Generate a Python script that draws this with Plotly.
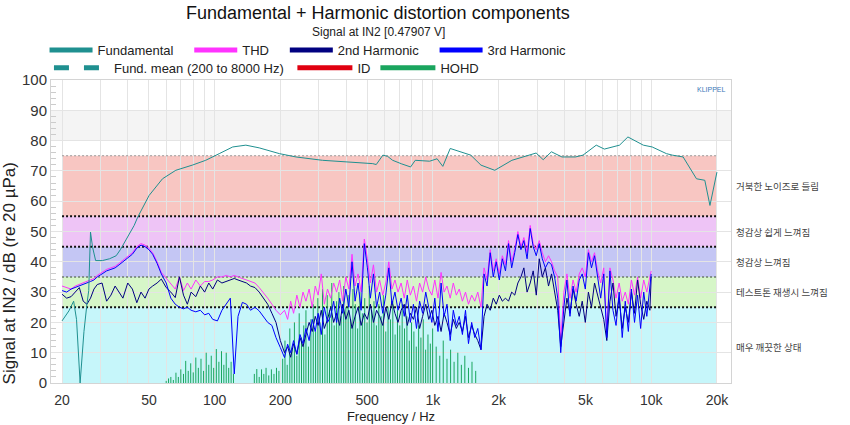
import plotly.graph_objects as go

title_text = "Fundamental + Harmonic distortion components"
subtitle_text = "Signal at IN2 [0.47907 V]"
x_title = "Frequency / Hz"
y_title = "Signal at IN2 / dB (re 20 µPa)"

# ---------------- data ----------------
fund_f = [20, 21.5, 22.6, 23.3, 24.2, 25.2, 26, 26.5, 27, 27.6, 28.5, 30.6, 33, 35.4, 37, 39,
          42.8, 44.4, 50.1, 57.7, 66.4, 79, 91, 105, 121, 139, 160, 198, 236, 312, 400, 530,
          550, 590, 620, 654, 720, 790, 830, 966, 1045, 1110, 1200, 1326, 1490, 1660, 1920,
          2300, 2600, 2970, 3200, 3490, 3900, 4500, 4870, 5600, 6100, 7160, 7820, 9200, 10100,
          11740, 12500, 14000, 16120, 17600, 18580, 20000]
fund_db = [20.5, 23.8, 27, 21, 0, 17, 26, 30.5, 49.8, 44.8, 40.4, 40.4, 41, 42, 44, 47,
           52, 54.7, 61.9, 67.4, 70.2, 71.9, 73.5, 75.7, 77.9, 78.5, 77.6, 75.7, 74.6, 73.5, 73, 72.4,
           72.1, 75.2, 74.8, 73.5, 72.3, 71.3, 73.5, 73.2, 74, 71.5, 77.4, 76.3, 75.2, 71.9, 70.2,
           73.5, 74.6, 75.9, 73.7, 76.3, 74.6, 74.6, 75.2, 78.5, 77.2, 78.5, 81.2, 78.5, 77.9,
           75.7, 75.2, 74.6, 67.4, 66.9, 58.6, 69.6]

harm_f = [20, 21, 22, 23, 24, 25, 26, 27, 28, 29,
          30.5, 32, 33.5, 35, 36.5, 38, 40, 42, 44, 46,
          48, 50, 52, 54.5, 57, 60, 63, 66, 69, 72,
          75, 78, 82, 86, 90, 94, 98, 103, 108, 113,
          118, 123, 128, 134, 140, 146, 153, 160, 167, 175,
          183, 191, 200, 209, 216, 223, 230, 238, 246, 254,
          262, 271, 280, 289, 298, 308, 318, 329, 340, 351,
          362, 374, 386, 399, 412, 426, 440, 454, 469, 485,
          501, 517, 534, 552, 570, 589, 608, 628, 649, 670,
          692, 715, 739, 763, 788, 814, 841, 869, 897, 927,
          957, 989, 1020, 1055, 1090, 1125, 1160, 1200, 1240, 1280,
          1320, 1365, 1410, 1455, 1505, 1555, 1605, 1660, 1715, 1770,
          1830, 1890, 1950, 2015, 2080, 2150, 2220, 2295, 2370, 2450,
          2530, 2610, 2700, 2790, 2880, 2975, 3070, 3170, 3275, 3385,
          3495, 3610, 3730, 3850, 3980, 4110, 4245, 4385, 4530, 4680,
          4830, 4990, 5155, 5325, 5500, 5680, 5870, 6060, 6260, 6470,
          6680, 6900, 7130, 7365, 7605, 7855, 8115, 8385, 8660, 8945,
          9240, 9545, 9860, 10000]

thd_db = [32, 31.5, 31, 32, 32.5, 33, 33.5, 34, 34.5, 35.5,
          36.5, 37.5, 38, 38.5, 39.5, 40.5, 41.5, 43, 45, 46,
          45.5, 44.5, 43, 40, 36.5, 34.5, 32.5, 31, 35, 30.5,
          33, 31, 34, 32, 33.5, 33.5, 34, 35, 35, 35.5,
          35, 35.5, 35, 34.5, 34, 33.5, 33, 31.5, 30, 28,
          26, 24, 22.5, 24, 21, 27, 23, 29, 25, 30,
          27, 31, 25, 32, 29, 36, 26, 31, 28, 33,
          30, 34, 27, 35, 31, 42.5, 32, 36, 30, 47.5,
          41, 33, 39, 30, 34, 29, 33, 40, 31, 34,
          30, 33, 28, 34, 29, 32, 27, 33, 30, 35,
          31, 29, 34, 28, 36.5, 30, 32, 28, 33, 29,
          31, 27, 30, 26, 29, 27, 30, 25, 38, 34,
          44, 37, 41, 36, 42, 39, 47, 40, 44, 50,
          45, 48, 43, 52, 46, 44, 47, 43, 40, 42,
          40, 37, 35, 14, 30, 36, 28, 34, 30, 36,
          38, 35, 44, 40, 43, 37, 33, 38, 17, 38,
          34, 28, 33, 27, 30, 26, 34, 29, 35, 28,
          34, 30, 35, 37]

h2_db = [29.3, 28, 28.5, 30, 31.5, 27, 26, 28, 31, 32.5,
         33, 27, 29, 32, 30, 28, 33, 31, 26.5, 30,
         28, 31, 32, 33, 34.3, 31.5, 30, 28.2, 35, 29,
         26, 30, 28.5, 32, 30, 33, 31, 34, 33, 33.5,
         34, 34.5, 34, 33.5, 33, 32, 31.5, 30, 28, 26,
         23, 20, 14, 10, 12, 8.5, 13, 9.5, 15, 12,
         16, 20, 17, 22, 19, 24, 18, 21, 25, 20,
         23, 19, 26, 21, 24, 18, 22, 25, 19, 23,
         21, 26, 20, 24, 22, 19, 25, 21, 27, 23,
         20, 24, 26, 19, 23, 21, 25, 18, 22, 26,
         21, 24, 19, 22, 17, 23, 20, 16, 21, 18,
         20, 17, 22, 15, 19, 16, 14, 11, 22, 26,
         24, 28, 26, 29, 27, 28, 27, 30, 29, 33,
         35, 38, 30, 33, 37, 29, 41, 35, 38, 32,
         36, 30, 24, 12, 20, 28, 23, 31, 26, 22,
         27, 20, 30, 25, 33, 29, 24, 21, 14, 27,
         33, 22, 28, 18, 25, 20, 30, 23, 34, 26,
         21, 27, 24, 35]

h3_db = [30.5, 30, 31, 31.5, 32, 32.5, 33, 33.5, 34, 35,
         36, 37, 37.5, 38, 39, 40, 41, 42.5, 44.5, 45.5,
         45, 44, 42.5, 39.5, 36, 33, 28, 26, 25, 24.5,
         25, 24, 23.5, 24, 22.5, 23, 21, 20.5, 24, 26,
         28, 3, 22, 26.6, 26, 24, 25, 23.8, 22, 20,
         19, 15, 11.7, 8.4, 12.8, 10, 14, 9.5, 16, 13,
         18, 14, 21, 17, 23, 16, 25, 20, 22, 27,
         20, 28, 23, 31, 25, 40, 27, 33, 24, 46,
         38, 28, 36, 25, 30, 23, 29, 38, 26, 30,
         24, 28, 22, 29, 20, 26, 18, 27, 23, 30,
         25, 20, 28, 17, 33, 22, 26, 14, 24, 19,
         22, 16, 24, 13, 20, 15, 18, 11, 36, 32,
         43, 35, 40, 34, 41, 37, 46, 38, 43, 49,
         44, 47, 41, 51, 45, 42, 46, 41, 38, 40,
         39, 35, 28, 10, 25, 34, 22, 32, 27, 34,
         36, 31, 43, 38, 42, 35, 28, 36, 15, 37,
         24, 19, 30, 15, 27, 17, 31, 20, 29, 18,
         30, 22, 33, 36]

hohd_f = [60, 61.5, 63, 64.7, 66.5, 68.2, 70, 72, 73.7, 75.7, 77.7, 79.8, 82, 84.2, 86.6, 89,
          91.5, 94, 96.5, 99, 101.8, 104.6, 107.5, 110.2, 113, 116, 119, 122,
          152, 156, 160, 164, 168, 172, 177, 182, 187, 192, 197,
          205, 210, 215, 221, 226, 232, 238, 244, 250, 256, 262, 269, 276, 283, 290,
          297, 304, 312, 320, 328, 336, 344, 353, 362, 371, 380, 390, 399,
          409, 420, 430, 441, 452, 463, 475, 487, 499, 511, 524, 537, 551,
          565, 579, 593, 608, 623, 639, 655, 671, 688, 705, 723,
          741, 760, 779, 798, 818, 839, 860, 881, 903, 926, 949, 973, 997,
          1035, 1075, 1115, 1160, 1205, 1250, 1300, 1350, 1400, 1455, 1510, 1570]
hohd_db = [0.7, 1.5, 2, 1, 3.4, 2, 4.5, 3, 7.3, 4, 6.5, 3.5, 8.4, 5, 8, 4,
           10, 6, 9, 5, 11.2, 7, 10.5, 6, 10, 5, 7, 3,
           3, 4.6, 2, 4.5, 3, 5, 2.5, 4.5, 3, 5, 4,
           8, 14, 6, 18, 11, 20, 9, 23, 15, 19, 24, 12, 21, 26, 17,
           28, 20, 31, 16, 29, 24, 33, 19, 27, 30, 22, 32, 25,
           29, 21, 31, 26, 18, 30, 23, 28, 20, 32, 24, 27, 19,
           26, 22, 29, 17, 25, 21, 27, 16, 24, 19, 26,
           18, 22, 14, 20, 17, 12, 19, 15, 21, 11, 16, 13, 18,
           12, 9, 14, 8, 11, 7, 10, 6, 9, 5, 7, 4]

band_lo = [0, 25, 35, 45, 55]
band_hi = [25, 35, 45, 55, 75]
band_labels = ["매우 깨끗한 상태", "테스트톤 재생시 느껴짐", "청감상 느껴짐", "청감상 쉽게 느껴짐", "거북한 노이즈로 들림"]
band_label_y = [12, 30, 40, 50, 65]
band_colors = ["#c6f6fa", "#d6f6c8", "#c4c6f4", "#eec4f6", "#f8c6c2"]
thr_levels = [25, 35, 45, 55, 75]
thr_colors = ["#111111", "#6a7a6a", "#111111", "#111111", "#999999"]
thr_widths = [2, 1.5, 2, 2, 1]

x_tickvals = [20, 50, 100, 200, 500, 1000, 2000, 5000, 10000, 20000]
x_ticktext = ["20", "50", "100", "200", "500", "1k", "2k", "5k", "10k", "20k"]
x_minor = [30, 40, 60, 70, 80, 90, 300, 400, 600, 700, 800, 900,
           3000, 4000, 6000, 7000, 8000, 9000]

C_FUND = "#1f9090"
C_THD = "#ff33ff"
C_H2 = "#000080"
C_H3 = "#0000ff"
C_ID = "#e00010"
C_HOHD = "#1aa55e"

assert len(harm_f) == len(thd_db) == len(h2_db) == len(h3_db)
assert len(fund_f) == len(fund_db)
assert len(hohd_f) == len(hohd_db)

fig = go.Figure()

for lvl, col, w in zip(thr_levels, thr_colors, thr_widths):
    fig.add_trace(go.Scatter(x=[20, 20000], y=[lvl, lvl], mode="lines",
                             line=dict(color=col, width=w, dash="2px,2px"),
                             showlegend=False, hoverinfo="skip"))

hx, hy = [], []
for f, v in zip(hohd_f, hohd_db):
    hx += [f, f, None]
    hy += [0, v, None]
fig.add_trace(go.Scatter(x=hx, y=hy, mode="lines", line=dict(color=C_HOHD, width=1),
                         showlegend=False))
fig.add_trace(go.Scatter(x=harm_f, y=thd_db, mode="lines", line=dict(color=C_THD, width=1),
                         showlegend=False))
fig.add_trace(go.Scatter(x=harm_f, y=h2_db, mode="lines", line=dict(color=C_H2, width=1),
                         showlegend=False))
fig.add_trace(go.Scatter(x=harm_f, y=h3_db, mode="lines", line=dict(color=C_H3, width=1),
                         showlegend=False))
fig.add_trace(go.Scatter(x=fund_f, y=fund_db, mode="lines", line=dict(color=C_FUND, width=1),
                         showlegend=False))

NB = "\u00a0"
leg1 = [("Fundamental" + NB * 3, C_FUND, "solid"), ("THD" + NB * 3, C_THD, "solid"),
        ("2nd Harmonic" + NB * 3, C_H2, "solid"), ("3rd Harmonic", C_H3, "solid")]
leg2 = [("Fund. mean (200 to 8000 Hz)" + NB, C_FUND, "dash"), ("ID", C_ID, "solid"),
        ("HOHD", C_HOHD, "solid")]
for name, col, dash in leg1:
    fig.add_trace(go.Scatter(x=[None], y=[None], mode="lines", name=name,
                             line=dict(color=col, width=5, dash=dash), legend="legend"))
for name, col, dash in leg2:
    fig.add_trace(go.Scatter(x=[None], y=[None], mode="lines", name=name,
                             line=dict(color=col, width=5, dash=dash), legend="legend2"))

shapes = [dict(type="rect", xref="paper", x0=0, x1=1, yref="y", y0=80, y1=90,
               fillcolor="#f4f4f4", line=dict(width=0), layer="below")]
for lo, hi, col in zip(band_lo, band_hi, band_colors):
    shapes.append(dict(type="rect", xref="x", x0=20, x1=20000, yref="y", y0=lo, y1=hi,
                       fillcolor=col, line=dict(width=0), layer="below"))

annotations = [
    dict(text=title_text, xref="paper", yref="paper", x=0.4816, y=1.222, showarrow=False,
         xanchor="center", yanchor="middle", font=dict(size=18, color="#111")),
    dict(text=subtitle_text, xref="paper", yref="paper", x=0.4816, y=1.158, showarrow=False,
         xanchor="center", yanchor="middle", font=dict(size=12, color="#222")),
    dict(text="KLIPPEL", xref="paper", yref="y", x=0.972, y=96.8, showarrow=False,
         xanchor="center", yanchor="middle", font=dict(size=7, color="#3a78b8")),
    dict(text=y_title, xref="paper", yref="paper", x=-0.061, y=0.36, showarrow=False,
         textangle=-90, xanchor="center", yanchor="middle", font=dict(size=17, color="#222")),
]
for txt, yv in zip(band_labels, band_label_y):
    annotations.append(dict(text=txt, xref="paper", yref="y", x=1.004, y=yv, showarrow=False,
                            xanchor="left", yanchor="middle",
                            font=dict(size=9.5, color="#444", family="Noto Sans CJK KR")))

fig.update_layout(
    width=850, height=425,
    margin=dict(l=51, r=119, t=80, b=42, autoexpand=False),
    paper_bgcolor="white", plot_bgcolor="white",
    font=dict(family="Liberation Sans, Arial, sans-serif", size=13, color="#333"),
    shapes=shapes, annotations=annotations,
    legend=dict(orientation="h", x=-0.0095, xanchor="left", y=1.099, yanchor="middle",
                itemwidth=43, font=dict(size=13, color="#222"), bgcolor="rgba(0,0,0,0)"),
    legend2=dict(orientation="h", x=-0.003, xanchor="left", y=1.04, yanchor="middle",
                 itemwidth=55, font=dict(size=13, color="#222"), bgcolor="rgba(0,0,0,0)"),
    xaxis=dict(type="log", range=[1.2504, 4.3655], tickvals=x_tickvals, ticktext=x_ticktext,
               showgrid=True, gridcolor="#e4e4e4", gridwidth=1, automargin=False,
               minor=dict(tickvals=x_minor, showgrid=True, gridcolor="#e4e4e4", ticks=""),
               showline=True, linecolor="#d4d4d4", mirror=True, ticks="",
               ticklabelstandoff=4,
               tickfont=dict(size=14, color="#333"),
               title=dict(text=x_title, font=dict(size=13, color="#222"), standoff=5),
               zeroline=False),
    yaxis=dict(range=[0, 100], dtick=10, showgrid=True, gridcolor="#e4e4e4", automargin=False,
               minor=dict(dtick=2, ticks="inside", ticklen=5, tickcolor="#cccccc", showgrid=False),
               showline=True, linecolor="#d4d4d4", mirror=True, ticks="",
               tickfont=dict(size=15, color="#333"),
               zeroline=False),
)

fig.write_html("out.html")
